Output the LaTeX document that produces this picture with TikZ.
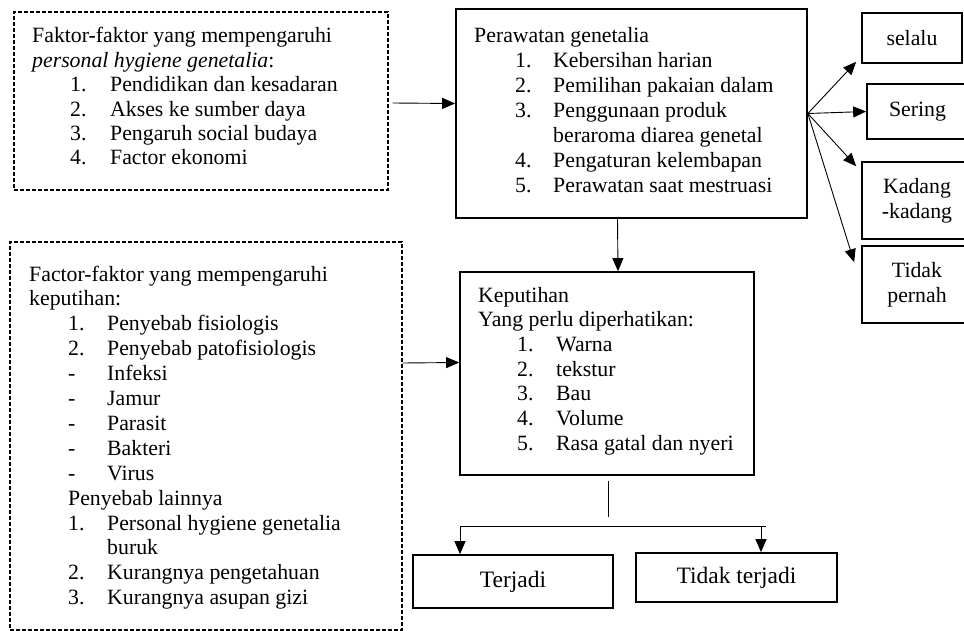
\documentclass[tikz,border=0pt]{standalone}
\usepackage{fontspec}
\setmainfont{Liberation Serif}
\usetikzlibrary{arrows.meta,calc}
\begin{document}
\begin{tikzpicture}[x=1pt,y=-1pt,
 dbox/.style={draw, dash pattern=on 4pt off 2pt, line width=1.3pt, inner sep=0pt},
 sbox/.style={draw, line width=1.7pt, inner sep=0pt, align=center, font=\fontsize{21.8}{25}\selectfont},
 arr/.style={line width=0.9pt, -{Triangle[length=13pt,width=11pt]}},
 ln/.style={line width=0.9pt},
 txt/.style={inner sep=0pt, anchor=base west, font=\fontsize{21.8}{25}\selectfont},
]
\useasboundingbox[fill=white] (0,0) rectangle (964,631);

% boxes
\node[dbox, minimum width=374pt, minimum height=178pt] (box1) at (201,101) {};
\node[sbox, minimum width=351pt, minimum height=209pt] (perawatan) at (631.5,113.5) {};
\node[dbox, minimum width=392pt, minimum height=388pt] (box2) at (206,436) {};
\node[sbox, minimum width=294pt, minimum height=203pt] (keput) at (607,373.5) {};
\node[sbox, minimum width=100pt, minimum height=50pt] (selalu) at (912,38) {selalu};
\node[sbox, minimum width=101pt, minimum height=55pt] (sering) at (917.5,111.5) {Sering};
\node[sbox, minimum width=110pt, minimum height=77pt] (kadang) at (917,200.5) {Kadang\\-kadang};
\node[sbox, minimum width=110pt, minimum height=77pt] (tidak) at (917,284.5) {Tidak\\pernah};
\node[sbox, font=\fontsize{23.5}{27}\selectfont, minimum width=200pt, minimum height=53pt] (terjadi) at (513,581.5) {Terjadi};
\node[sbox, font=\fontsize{23.5}{27}\selectfont, minimum width=201pt, minimum height=49pt] (tidakt) at (736.5,577.5) {Tidak terjadi};

% texts
\node[txt, font=\fontsize{21.8}{24.4}\selectfont] (t1) at (32,43) {\begin{tabular}[t]{@{}p{38pt}@{}p{40pt}@{}l@{}}
\multicolumn{3}{@{}l@{}}{Faktor-faktor yang mempengaruhi}\\
\multicolumn{3}{@{}l@{}}{\textit{personal hygiene genetalia}:}\\
& 1. & Pendidikan dan kesadaran\\
& 2. & Akses ke sumber daya\\
& 3. & Pengaruh social budaya\\
& 4. & Factor ekonomi
\end{tabular}};

\node[txt] (t2) at (474,43) {\begin{tabular}[t]{@{}p{41pt}@{}p{38pt}@{}l@{}}
\multicolumn{3}{@{}l@{}}{Perawatan genetalia}\\
& 1. & Kebersihan harian\\
& 2. & Pemilihan pakaian dalam\\
& 3. & Penggunaan produk\\
& & beraroma diarea genetal\\
& 4. & Pengaturan kelembapan\\
& 5. & Perawatan saat mestruasi
\end{tabular}};

\node[txt, font=\fontsize{21.8}{24.7}\selectfont] (t3) at (478,302) {\begin{tabular}[t]{@{}p{39pt}@{}p{39pt}@{}l@{}}
\multicolumn{3}{@{}l@{}}{Keputihan}\\
\multicolumn{3}{@{}l@{}}{Yang perlu diperhatikan:}\\
& 1. & Warna\\
& 2. & tekstur\\
& 3. & Bau\\
& 4. & Volume\\
& 5. & Rasa gatal dan nyeri
\end{tabular}};

\node[txt, font=\fontsize{21.8}{24.9}\selectfont] (t4) at (29,281) {\begin{tabular}[t]{@{}p{39pt}@{}p{39pt}@{}l@{}}
\multicolumn{3}{@{}l@{}}{Factor-faktor yang mempengaruhi}\\
\multicolumn{3}{@{}l@{}}{keputihan:}\\
& 1. & Penyebab fisiologis\\
& 2. & Penyebab patofisiologis\\
& - & Infeksi\\
& - & Jamur\\
& - & Parasit\\
& - & Bakteri\\
& - & Virus\\
& \multicolumn{2}{@{}l@{}}{Penyebab lainnya}\\
& 1. & Personal hygiene genetalia\\
& & buruk\\
& 2. & Kurangnya pengetahuan\\
& 3. & Kurangnya asupan gizi
\end{tabular}};

% connectors
\draw[arr] ($(box1.east)+(4,2)$) -- ($(perawatan.west)+(0,-10)$);
\draw[arr] ($(box2.east)+(0,-73)$) -- ($(keput.west)+(0,-11)$);
\draw[arr] ($(perawatan.south)+(-14,0)$) -- ($(keput.north)+(11,0)$);

\draw[arr] (perawatan.east) -- ($(selalu.south west)+(-5,-2)$);
\draw[arr] (perawatan.east) -- (sering.west);
\draw[arr] (perawatan.east) -- ($(kadang.north west)+(-5,5)$);
\draw[arr] (perawatan.east) -- ($(tidak.north west)+(-7,17)$);

\coordinate (hl) at (460,526);
\coordinate (hr) at (766,526);
\coordinate (hr2) at (761,526);
\draw[ln] ($(keput.south)+(1,5)$) -- ($(keput.south)+(1,41)$);
\draw[ln] (hl) -- (hr);
\draw[arr] (hl) -- (hl |- terjadi.north);
\draw[arr] (hr2) -- (hr2 |- tidakt.north);
\end{tikzpicture}
\end{document}
